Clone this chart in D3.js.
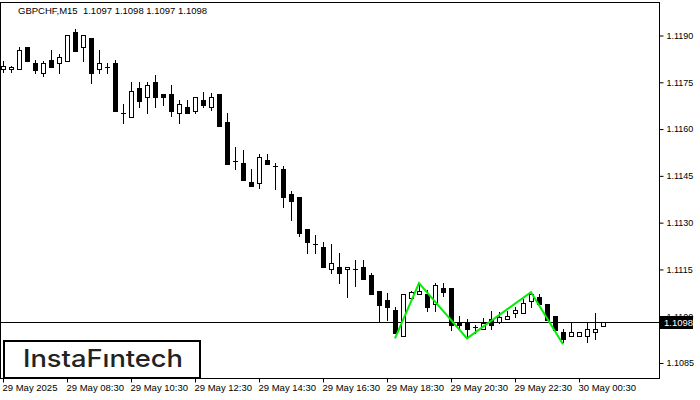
<!DOCTYPE html>
<html><head><meta charset="utf-8">
<script src="https://cdn.jsdelivr.net/npm/d3@7"></script>
<style>body{margin:0;background:#fff}svg{display:block}</style>
</head><body>
<svg id="c" width="700" height="400"></svg>
<script>
const symbolTitle = "GBPCHF,M15  1.1097 1.1098 1.1097 1.1098";
const open = [1.11792,1.11792,1.11792,1.11863,1.11812,1.11780,1.11821,1.11812,1.11818,1.11911,
1.11863,1.11892,1.11792,1.11799,1.11812,1.11651,1.11638,1.11731,1.11703,1.11751,
1.11712,1.11712,1.11651,1.11670,1.11658,1.11693,1.11670,1.11712,1.11622,1.11497,
1.11491,1.11430,1.11427,1.11500,1.11481,1.11471,1.11391,1.11382,1.11279,1.11231,
1.11221,1.11150,1.11157,1.11150,1.11150,1.11157,1.11131,1.11080,1.11051,1.11019,
1.10935,1.11057,1.11070,1.11070,1.11038,1.11089,1.11089,1.10980,1.10977,1.10964,
1.10958,1.10990,1.10980,1.10990,1.11009,1.11009,1.11048,1.11061,1.11038,1.11000,
1.10948,1.10935,1.10935,1.10935,1.10948,1.10970];
const high = [1.11818,1.11802,1.11863,1.11863,1.11821,1.11818,1.11853,1.11841,1.11902,1.11921,
1.11902,1.11892,1.11853,1.11812,1.11821,1.11680,1.11751,1.11751,1.11751,1.11773,
1.11712,1.11741,1.11693,1.11693,1.11703,1.11719,1.11715,1.11712,1.11651,1.11542,
1.11532,1.11471,1.11520,1.11520,1.11491,1.11481,1.11401,1.11382,1.11279,1.11260,
1.11237,1.11231,1.11202,1.11157,1.11179,1.11179,1.11138,1.11080,1.11074,1.11028,
1.11070,1.11080,1.11106,1.11083,1.11106,1.11106,1.11089,1.11000,1.10990,1.10971,
1.10993,1.11016,1.11012,1.11016,1.11028,1.11054,1.11077,1.11070,1.11038,1.11000,
1.10958,1.10980,1.10948,1.10980,1.11009,1.10980];
const low = [1.11783,1.11783,1.11792,1.11818,1.11780,1.11770,1.11799,1.11780,1.11818,1.11850,
1.11818,1.11748,1.11780,1.11780,1.11658,1.11619,1.11638,1.11670,1.11651,1.11670,
1.11677,1.11642,1.11619,1.11651,1.11651,1.11670,1.11661,1.11610,1.11488,1.11471,
1.11436,1.11417,1.11410,1.11488,1.11407,1.11349,1.11308,1.11256,1.11202,1.11202,
1.11157,1.11138,1.11106,1.11061,1.11096,1.11118,1.11070,1.10980,1.10987,1.10945,
1.10935,1.11054,1.11070,1.11016,1.11016,1.11064,1.10955,1.10958,1.10932,1.10945,
1.10958,1.10958,1.10977,1.10990,1.10996,1.11009,1.11028,1.11038,1.10987,1.10955,
1.10916,1.10935,1.10935,1.10916,1.10926,1.10970];
const close = [1.11802,1.11799,1.11853,1.11818,1.11789,1.11812,1.11799,1.11831,1.11902,1.11850,
1.11902,1.11780,1.11812,1.11799,1.11658,1.11651,1.11722,1.11690,1.11741,1.11703,
1.11703,1.11658,1.11680,1.11651,1.11703,1.11677,1.11703,1.11610,1.11488,1.11497,
1.11436,1.11417,1.11510,1.11488,1.11481,1.11382,1.11369,1.11266,1.11237,1.11231,
1.11157,1.11170,1.11138,1.11157,1.11150,1.11118,1.11070,1.11035,1.11028,1.10945,
1.11070,1.11077,1.11080,1.11028,1.11099,1.11077,1.10971,1.10971,1.10958,1.10964,
1.10977,1.10971,1.10996,1.11000,1.11019,1.11041,1.11070,1.11038,1.10987,1.10955,
1.10926,1.10948,1.10948,1.10958,1.10958,1.10980];
const timeTickIndex = [0,8,16,24,32,40,48,56,64,72];
const timeTickLabels = ["29 May 2025","29 May 08:30","29 May 10:30","29 May 12:30","29 May 14:30","29 May 16:30","29 May 18:30","29 May 20:30","29 May 22:30","30 May 00:30"];
const priceTicks = [1.1085,1.1100,1.1115,1.1130,1.1145,1.1160,1.1175,1.1190];
const currentPrice = 1.1098;
const patternIndex = [49,52,58,66,70];
const patternPrice = [1.10929,1.11106,1.10929,1.11077,1.10910];
const logoText = "InstaF\u0131ntech";

const svg = d3.select("#c");
const L = 0, R = 659, T = 2, B = 378;
const x = d3.scaleLinear().domain([0, 82]).range([3, 659]);
const y = d3.scaleLinear().domain([1.1085, 1.1190]).range([363, 35.5]);
const font = "'Liberation Sans', Arial, sans-serif";

svg.append("rect").attr("width",700).attr("height",400).attr("fill","#fff");
svg.append("defs").append("clipPath").attr("id","pc").append("rect")
  .attr("x",L+1).attr("y",T+1).attr("width",R-L-1).attr("height",B-T-1);

const data = open.map((o,i)=>({i, o, h:high[i], l:low[i], c:close[i]}));
const g = svg.append("g").attr("clip-path","url(#pc)");

// current price line
g.append("line").attr("x1",L).attr("x2",R).attr("y1",Math.round(y(currentPrice))+0.5).attr("y2",Math.round(y(currentPrice))+0.5)
  .attr("stroke","#000").attr("stroke-width",1);

const cs = g.selectAll("g.c").data(data).enter().append("g");
cs.append("line")
  .attr("x1",d=>Math.round(x(d.i))+0.5).attr("x2",d=>Math.round(x(d.i))+0.5)
  .attr("y1",d=>Math.round(y(d.h))).attr("y2",d=>Math.round(y(d.l))+1)
  .attr("stroke","#000").attr("stroke-width",1);
cs.each(function(d){
  const s = d3.select(this), cx = Math.round(x(d.i));
  const top = Math.round(y(Math.max(d.o,d.c))), bot = Math.round(y(Math.min(d.o,d.c)));
  if (d.c > d.o) {
    s.append("rect").attr("x",cx-1.5).attr("y",top+0.5).attr("width",4).attr("height",Math.max(1,bot-top))
      .attr("fill","#fff").attr("stroke","#000").attr("stroke-width",1);
  } else if (d.c < d.o) {
    s.append("rect").attr("x",cx-2).attr("y",top).attr("width",5).attr("height",Math.max(1,bot-top+1)).attr("fill","#000");
  } else {
    s.append("line").attr("x1",cx-2).attr("x2",cx+3).attr("y1",top+0.5).attr("y2",top+0.5).attr("stroke","#000");
  }
});

// pattern
g.append("path").datum(patternIndex.map((d,k)=>[d,patternPrice[k]]))
  .attr("d", d3.line().x(d=>x(d[0])).y(d=>y(d[1])))
  .attr("fill","none").attr("stroke","#00ee00").attr("stroke-width",2);

// frame
svg.append("rect").attr("x",L+0.5).attr("y",T+0.5).attr("width",R-L).attr("height",B-T)
  .attr("fill","none").attr("stroke","#000").attr("stroke-width",1);

// right axis
const ya = svg.append("g").attr("transform",`translate(${R+0.5},0)`)
  .call(d3.axisRight(y).tickValues(priceTicks).tickSize(4).tickPadding(3).tickFormat(d3.format(".4f")));
ya.select(".domain").remove();
ya.selectAll("line").attr("stroke","#000");
ya.selectAll("text").attr("font-family",font).attr("font-size","9px").attr("fill","#000");

// bottom axis
const xa = svg.append("g").attr("transform",`translate(0,${B+0.5})`)
  .call(d3.axisBottom(x).tickValues(timeTickIndex).tickSize(4).tickPadding(2).tickFormat((d,k)=>timeTickLabels[k]));
xa.select(".domain").remove();
xa.selectAll("line").attr("stroke","#000");
xa.selectAll("text").attr("font-family",font).attr("font-size","9.5px").attr("fill","#000")
  .attr("text-anchor","start").attr("dx","-1");

// current price label
const cy = Math.round(y(currentPrice));
svg.append("rect").attr("x",R+1).attr("y",cy-6).attr("width",33).attr("height",13).attr("fill","#000");
svg.append("text").attr("x",R+5).attr("y",cy+4).attr("font-family",font).attr("font-size","9.5px")
  .attr("fill","#fff").text(d3.format(".4f")(currentPrice));

// title
svg.append("text").attr("x",18).attr("y",14).attr("font-family",font).attr("font-size","9.5px")
  .attr("fill","#000").attr("xml:space","preserve").style("white-space","pre").text(symbolTitle);

// logo
svg.append("rect").attr("x",4).attr("y",341).attr("width",196).attr("height",37)
  .attr("fill","#fff").attr("stroke","#000").attr("stroke-width",2);
svg.append("text").attr("x",23).attr("y",367).attr("font-family","Inter, 'Open Sans', sans-serif")
  .attr("font-size","24px").attr("font-weight",500).attr("fill","#222")
  .attr("textLength",160).attr("lengthAdjust","spacingAndGlyphs").text(logoText);
</script>
</body></html>
